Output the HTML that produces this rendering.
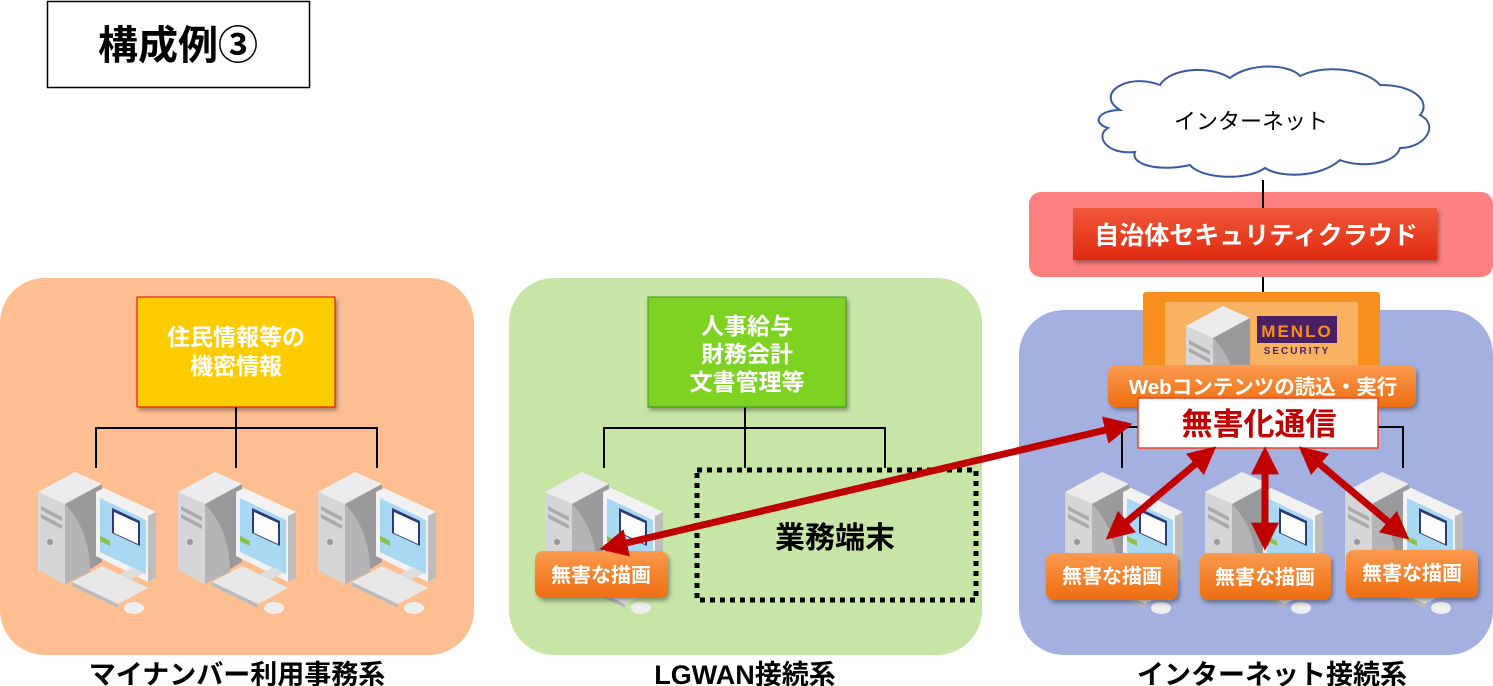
<!DOCTYPE html>
<html><head><meta charset="utf-8"><style>
html,body{margin:0;padding:0;background:#fff;}
svg{display:block;}
text{font-family:"Liberation Sans","Noto Sans CJK JP",sans-serif;}
</style></head><body>
<svg width="1493" height="686" viewBox="0 0 1493 686" xmlns="http://www.w3.org/2000/svg">
<defs>
<linearGradient id="og" x1="0" y1="0" x2="0" y2="1"><stop offset="0" stop-color="#fb9a4e"/><stop offset="1" stop-color="#ee6d10"/></linearGradient>
<linearGradient id="rg" x1="0" y1="0" x2="0" y2="1"><stop offset="0" stop-color="#f0583a"/><stop offset="1" stop-color="#e02a10"/></linearGradient>
<g id="tower">
<polygon points="0,22 37,2 64,14 27,34" fill="#ececee"/>
<polygon points="0,22 27,34 27,114 0,100" fill="#d6d6d8"/>
<polygon points="27,34 64,14 64,92 27,114" fill="#9a9a9c"/>
<path d="M27,34 Q52,60 52,102 L27,114 Z" fill="#b5b5b7"/>
<polygon points="3,36 24,47 24,51 3,40" fill="#aaa"/>
<polygon points="3,44 24,55 24,59 3,48" fill="#aaa"/>
<circle cx="12" cy="72" r="3" fill="#999"/>
</g>
<g id="pc">
<use href="#tower"/>
<polygon points="58,22 66,18 118,42 118,108 110,112 58,86" fill="#f2f2f2"/>
<polygon points="110,46 118,42 118,108 110,112" fill="#bdbdbd"/>
<polygon points="62,28 108,50 108,104 62,82" fill="#a8d8f2"/>
<polygon points="74,38 102,51 102,76 74,63" fill="#2d3a7a"/>
<polygon points="76,42 100,53 100,74 76,63" fill="#fff"/>
<polygon points="62,66 72,71 72,76 62,71" fill="#8cc04a"/>
<polygon points="80,105 96,97 106,103 90,111" fill="#ddd"/>
<polygon points="34,112 64,96 110,118 80,134" fill="#e8e8e8"/>
<polygon points="34,112 80,134 80,138 34,116" fill="#bbb"/>
<ellipse cx="96" cy="138" rx="10" ry="6" fill="#eee"/>
</g>
<marker id="ah" viewBox="0 0 10 10" refX="8" refY="5" markerWidth="4" markerHeight="4" orient="auto-start-reverse" markerUnits="strokeWidth"><path d="M0,0 L10,5 L0,10 Z" fill="#c00000"/></marker>
<filter id="sh" x="-10%" y="-10%" width="130%" height="140%"><feDropShadow dx="2" dy="3" stdDeviation="2" flood-opacity="0.35"/></filter>
</defs>

<rect x="47.5" y="1.5" width="262" height="86" fill="#fff" stroke="#000" stroke-width="1.5"/>
<text x="178" y="59" font-size="40" font-weight="bold" text-anchor="middle">構成例③</text>

<rect x="0" y="278" width="474" height="377" rx="45" fill="#fdbf91"/>
<rect x="509" y="278" width="473" height="377" rx="45" fill="#c8e5a8"/>
<rect x="1019" y="310" width="474" height="345" rx="45" fill="#a4b0e0"/>

<text x="237" y="684" font-size="27" font-weight="bold" text-anchor="middle">マイナンバー利用事務系</text>
<text x="745" y="684" font-size="27" font-weight="bold" text-anchor="middle">LGWAN接続系</text>
<text x="1272" y="684" font-size="27" font-weight="bold" text-anchor="middle">インターネット接続系</text>

<g stroke="#000" stroke-width="2" fill="none">
<path d="M236,407 V428 M96,468 V428 H377 V468 M236,428 V468"/>
<path d="M745,407 V428 M604,468 V428 H885 V468 M745,428 V468"/>
<path d="M1122,468 V427 H1403 V468"/>
<path d="M1263,180 V192 M1263,260 V292"/>
</g>
<rect x="137" y="297" width="198" height="110" fill="#ffcc00" stroke="#e00" stroke-width="1" filter="url(#sh)"/>
<text x="236" y="345" font-size="23" font-weight="bold" fill="#fff" text-anchor="middle">住民情報等の</text>
<text x="236" y="374" font-size="23" font-weight="bold" fill="#fff" text-anchor="middle">機密情報</text>
<use href="#pc" x="38" y="470"/>
<use href="#pc" x="178" y="470"/>
<use href="#pc" x="318" y="470"/>

<rect x="648" y="297" width="198" height="110" fill="#7ed321" stroke="#3a9a20" stroke-width="1" filter="url(#sh)"/>
<text x="747" y="334" font-size="23" font-weight="bold" fill="#fff" text-anchor="middle">人事給与</text>
<text x="747" y="362" font-size="23" font-weight="bold" fill="#fff" text-anchor="middle">財務会計</text>
<text x="747" y="390" font-size="23" font-weight="bold" fill="#fff" text-anchor="middle">文書管理等</text>
<use href="#pc" x="545" y="470"/>
<rect x="697" y="470" width="279" height="130" fill="none" stroke="#000" stroke-width="5" stroke-dasharray="5,5"/>
<text x="835" y="548" font-size="30" font-weight="bold" text-anchor="middle">業務端末</text>
<rect x="535" y="551" width="133" height="47" rx="8" fill="url(#og)" filter="url(#sh)"/>
<text x="601" y="582" font-size="20" font-weight="bold" fill="#fff" text-anchor="middle">無害な描画</text>

<path d="M1120,110 C1095,95 1125,72 1160,85 C1170,68 1210,65 1230,78 C1250,62 1290,64 1300,76 C1330,62 1370,72 1380,85 C1420,85 1430,105 1420,115 C1440,125 1425,148 1400,148 C1395,165 1360,168 1340,160 C1320,178 1280,178 1265,168 C1245,182 1200,178 1190,165 C1160,172 1130,165 1135,152 C1105,155 1095,135 1108,128 C1090,122 1100,110 1120,110 Z" fill="#fff" stroke="#3a5aa0" stroke-width="2"/>
<text x="1251" y="129" font-size="22" text-anchor="middle">インターネット</text>

<rect x="1029" y="192" width="464" height="85" rx="12" fill="#ff8080"/>
<line x1="1263" y1="192" x2="1263" y2="210" stroke="#000" stroke-width="2"/>
<rect x="1073" y="208" width="364" height="52" fill="url(#rg)" filter="url(#sh)"/>
<text x="1256" y="244" font-size="25" font-weight="bold" fill="#fff" text-anchor="middle">自治体セキュリティクラウド</text>

<rect x="1143" y="292" width="237" height="90" rx="3" fill="#f7901e"/>
<rect x="1165" y="302" width="193" height="70" fill="#f8b262"/>
<use href="#tower" x="1186" y="304"/>
<rect x="1257" y="316" width="80" height="27" fill="#4b1f63"/>
<text x="1297" y="337" font-size="17" font-weight="bold" fill="#f7901e" text-anchor="middle" letter-spacing="2">MENLO</text>
<text x="1297" y="354" font-size="10" font-weight="bold" fill="#4b1f63" text-anchor="middle" letter-spacing="2">SECURITY</text>

<rect x="1108" y="365" width="308" height="42" rx="8" fill="url(#og)" filter="url(#sh)"/>
<text x="1263" y="394" font-size="20.5" font-weight="bold" fill="#fff" text-anchor="middle">Webコンテンツの読込・実行</text>
<rect x="1138" y="398" width="240" height="50" fill="#fff" stroke="#f04020" stroke-width="1.5"/>
<text x="1259" y="435" font-size="31" font-weight="bold" fill="#c00000" text-anchor="middle">無害化通信</text>

<use href="#pc" x="1065" y="470"/>
<use href="#pc" x="1205" y="470"/>
<use href="#pc" x="1345" y="470"/>

<rect x="1046" y="553" width="132" height="47" rx="8" fill="url(#og)" filter="url(#sh)"/>
<text x="1112" y="583" font-size="20" font-weight="bold" fill="#fff" text-anchor="middle">無害な描画</text>
<rect x="1200" y="553" width="131" height="47" rx="8" fill="url(#og)" filter="url(#sh)"/>
<text x="1265" y="584" font-size="20" font-weight="bold" fill="#fff" text-anchor="middle">無害な描画</text>
<rect x="1346" y="550" width="132" height="48" rx="8" fill="url(#og)" filter="url(#sh)"/>
<text x="1412" y="580" font-size="20" font-weight="bold" fill="#fff" text-anchor="middle">無害な描画</text>

<g stroke="#c00000" stroke-width="7" fill="none" marker-start="url(#ah)" marker-end="url(#ah)">
<line x1="605" y1="548" x2="1127" y2="425"/>
<line x1="1212" y1="450" x2="1110" y2="536"/>
<line x1="1265" y1="452" x2="1265" y2="545"/>
<line x1="1303" y1="450" x2="1405" y2="536"/>
</g>
</svg>
</body></html>
